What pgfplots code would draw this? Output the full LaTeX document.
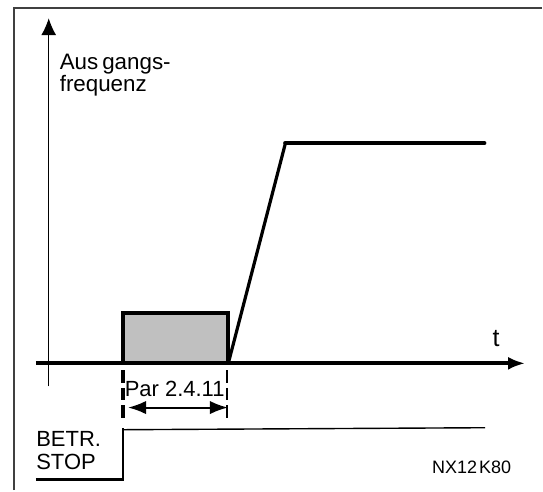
\documentclass[border=0pt]{standalone}
\usepackage{pgfplots}
\pgfplotsset{compat=1.18}
\usetikzlibrary{arrows.meta}
\usepackage{fontspec}
\setmainfont{Liberation Sans}
\definecolor{boxgray}{HTML}{C0C0C0}
\definecolor{framegray}{HTML}{404040}
\begin{document}
\begin{tikzpicture}
\begin{axis}[
  width=271.5pt, height=245.5pt, scale only axis,
  xmin=0, xmax=543, ymin=0, ymax=491, y dir=reverse,
  hide axis, clip=false,
]
% invisible extent to keep the full picture area
\addplot[draw=none, mark=none, forget plot] coordinates {(0,0) (543,491)};
% frame
\addplot[draw=framegray, line width=1pt, mark=none] coordinates {(14,491) (14,8) (543,8)};
% gray box fill
\addplot[fill=boxgray, draw=none, mark=none] coordinates {(123,364) (123,313.3) (228.7,313.3) (228.7,364)} -- cycle;
% y axis
\addplot[black, line width=0.5pt, mark=none, -{Latex[length=8.5pt,width=7.5pt]}] coordinates {(48.8,387) (48.8,18.3)};
% x axis
\addplot[black, line width=2pt, mark=none, -{Latex[length=8.5pt,width=6.5pt]}] coordinates {(36,364) (526,364)};
% box outline
\addplot[black, line width=2pt, mark=none, line join=miter] coordinates {(123,364) (123,313.3) (228.7,313.3) (228.7,364)};
% ramp
\addplot[black, line width=1.6pt, mark=none, line join=round] coordinates {(228.7,364) (286,143.3)};
% top level
\addplot[black, line width=2.35pt, mark=none, line cap=round] coordinates {(286,143.3) (485,143.3)};
% dashed markers
\addplot[black, line width=1.8pt, mark=none, dash pattern=on 6.3pt off 2.5pt] coordinates {(123,371) (123,419)};
\addplot[black, line width=1.3pt, mark=none, dash pattern=on 6.3pt off 2.5pt] coordinates {(227.5,371) (227.5,419)};
% double arrow
\addplot[black, line width=1pt, mark=none, {Latex[length=9pt,width=6.7pt]}-{Latex[length=9pt,width=6.7pt]}] coordinates {(128.3,408.3) (228.3,408.3)};
% run/stop signal
\addplot[black, line width=1.4pt, mark=none] coordinates {(36,480) (123.3,480) (123.3,428.5)};
\addplot[black, line width=0.7pt, mark=none] coordinates {(123.3,430.5) (486,428.5)};
% texts
\node[anchor=base west, inner sep=0pt, font=\fontsize{11.2}{11.2}\selectfont] at (axis cs:59.5,69.3) {Aus\kern2pt gangs-};
\node[anchor=base west, inner sep=0pt, font=\fontsize{11.2}{11.2}\selectfont] at (axis cs:59.5,91.7) {frequenz};
\node[anchor=base, inner sep=0pt, font=\fontsize{12.5}{12.5}\selectfont] at (axis cs:497,347) {t};
\node[anchor=base, inner sep=0pt, font=\fontsize{11}{11}\selectfont] at (axis cs:175,397.7) {Par 2.4.11};
\node[anchor=base west, inner sep=0pt, font=\fontsize{11}{11}\selectfont] at (axis cs:36,447.7) {BETR.};
\node[anchor=base west, inner sep=0pt, font=\fontsize{11}{11}\selectfont] at (axis cs:36,470.7) {STOP};
\node[anchor=base, inner sep=0pt, font=\fontsize{9}{9}\selectfont] at (axis cs:472.5,474) {NX12\kern1pt K80};
\end{axis}
\end{tikzpicture}
\end{document}
